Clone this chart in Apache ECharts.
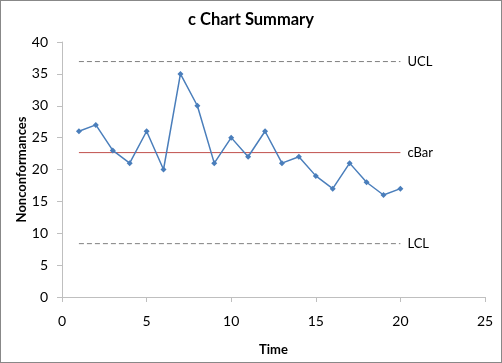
<!DOCTYPE html>
<html><head><meta charset="utf-8">
<script src="https://cdn.jsdelivr.net/npm/echarts@6/dist/echarts.min.js"></script>
<style>html,body{margin:0;padding:0;background:#fff}#c{width:502px;height:363px;box-sizing:border-box;border:1px solid #888;}</style>
</head><body><div id="c"></div>
<script>
const time = [1,2,3,4,5,6,7,8,9,10,11,12,13,14,15,16,17,18,19,20];
const counts = [26,27,23,21,26,20,35,30,21,25,22,26,21,22,19,17,21,18,16,17];
const cBar = 22.65, ucl = 36.93, lcl = 8.37;
const xTicks = [0,5,10,15,20,25];
const yTicks = [0,5,10,15,20,25,30,35,40];

const font = 'Lato, "Open Sans", sans-serif';
const chart = echarts.init(document.getElementById('c'));
const hline = (name, v, color, type, width) => ({
  type:'line', name, data:[[time[0],v],[time[time.length-1],v]], symbol:'none', silent:true,
  lineStyle:{color, type, width},
  endLabel:{show:true, formatter:name, color:'#000', fontFamily:font, fontSize:13, distance:7}
});
chart.setOption({
  animation:false,
  title:{text:'c Chart Summary', left:'center', top:5, textStyle:{fontFamily:font, fontSize:16.5, fontWeight:'bold', color:'#000'}},
  grid:{left:61, right:16, top:41, bottom:65},
  xAxis:{type:'value', min:0, max:25, interval:5, name:'Time', nameLocation:'middle', nameGap:46, nameMoveOverlap:false,
    nameTextStyle:{fontFamily:font, fontSize:13, fontWeight:'bold', color:'#000'},
    axisLine:{show:true, lineStyle:{color:'#bfbfbf'}}, axisTick:{show:true, length:5, lineStyle:{color:'#bfbfbf'}},
    axisLabel:{fontFamily:font, fontSize:14, color:'#000', margin:17}, splitLine:{show:false}},
  yAxis:{type:'value', min:0, max:40, interval:5, name:'Nonconformances', nameLocation:'middle', nameGap:34, nameMoveOverlap:false,
    nameTextStyle:{fontFamily:font, fontSize:13, fontWeight:'bold', color:'#000'},
    axisLine:{show:true, lineStyle:{color:'#bfbfbf'}}, axisTick:{show:true, length:5, lineStyle:{color:'#bfbfbf'}},
    axisLabel:{fontFamily:font, fontSize:14, color:'#000', margin:14}, splitLine:{show:false}},
  series:[
    hline('UCL', ucl, '#7f7f7f', [5,3], 1),
    hline('cBar', cBar, '#c0504d', 'solid', 1),
    hline('LCL', lcl, '#7f7f7f', [5,3], 1),
    {type:'line', name:'c', data:time.map((t,i)=>[t,counts[i]]), symbol:'diamond', symbolSize:6, showSymbol:true,
     lineStyle:{color:'#4a7ebb', width:1.5}, itemStyle:{color:'#4a7ebb'}}
  ]
});
</script></body></html>
